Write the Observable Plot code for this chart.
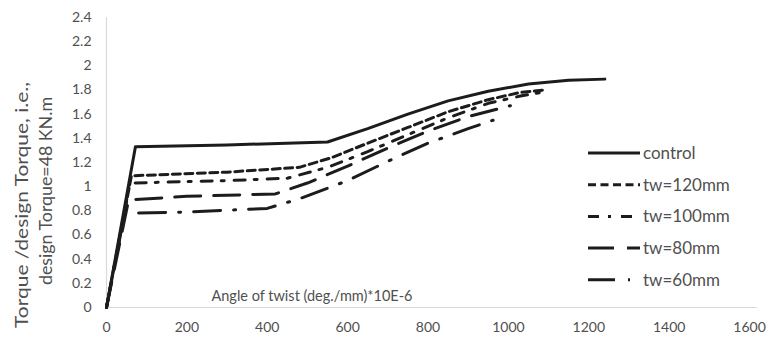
<!DOCTYPE html>
<html><head><meta charset="utf-8">
<script src="https://cdn.jsdelivr.net/npm/d3@7"></script>
<script src="https://cdn.jsdelivr.net/npm/@observablehq/plot@0.6"></script>
<style>
body{margin:0;background:#fff}
#wrap{position:relative;width:770px;height:339px;font-family:Lato, "Open Sans", sans-serif}
</style></head>
<body><div id="wrap"></div>
<script>
// ---- data ----
const seriesNames = ["control", "tw=120mm", "tw=100mm", "tw=80mm", "tw=60mm"];
const controlX = [0, 72, 300, 550, 650, 750, 850, 950, 1050, 1150, 1240];
const controlY = [0, 1.33, 1.345, 1.37, 1.48, 1.60, 1.71, 1.79, 1.85, 1.88, 1.89];
const tw120X = [0, 62, 300, 480, 560, 650, 750, 850, 950, 1030, 1090];
const tw120Y = [0, 1.09, 1.12, 1.16, 1.24, 1.36, 1.49, 1.62, 1.72, 1.78, 1.80];
const tw100X = [0, 58, 300, 450, 550, 650, 750, 850, 950, 1030, 1080];
const tw100Y = [0, 1.03, 1.05, 1.07, 1.16, 1.29, 1.43, 1.57, 1.69, 1.75, 1.78];
const tw80X = [0, 55, 200, 420, 500, 600, 700, 800, 900, 1005];
const tw80Y = [0, 0.89, 0.92, 0.94, 1.03, 1.17, 1.32, 1.46, 1.58, 1.67];
const tw60X = [0, 45, 200, 400, 480, 600, 700, 800, 900, 962];
const tw60Y = [0, 0.78, 0.79, 0.82, 0.90, 1.05, 1.21, 1.36, 1.48, 1.55];
const xTicks = [0, 200, 400, 600, 800, 1000, 1200, 1400, 1600];
const yTicks = [0, 0.2, 0.4, 0.6, 0.8, 1, 1.2, 1.4, 1.6, 1.8, 2, 2.2, 2.4];
const xTitle = "Angle of twist (deg./mm)*10E-6";
const yTitle1 = "Torque /design Torque, i.e.,";
const yTitle2 = "design Torque=48 KN.m";

// ---- styles ----
const dashes = ["none", "8,4.5", "11,9,3,10", "26,13", "27,13,2,13"];
const lineColor = "#1c1c1c";
const textColor = "#505050";

const xs = [controlX, tw120X, tw100X, tw80X, tw60X];
const ys = [controlY, tw120Y, tw100Y, tw80Y, tw60Y];
const table = seriesNames.map((name, i) => xs[i].map((x, j) => ({series: name, x, y: ys[i][j]})));

const marks = [
  Plot.ruleY([0], {stroke: "#d9d9d9", strokeWidth: 1.2, x1: 0, x2: 1620}),
  Plot.ruleX([0], {stroke: "#d9d9d9", strokeWidth: 1.2}),
  Plot.axisX({ticks: xTicks, tickSize: 0, tickPadding: 15, fontSize: 14, label: null, tickFormat: d => String(d)}),
  Plot.axisY({ticks: yTicks, tickSize: 0, tickPadding: 15, fontSize: 14, label: null, tickFormat: d => String(+d.toFixed(1))})
];
table.forEach((d, i) => {
  marks.push(Plot.line(d, {x: "x", y: "y", stroke: lineColor, strokeWidth: 3, strokeDasharray: dashes[i] === "none" ? undefined : dashes[i]}));
});

const chart = Plot.plot({
  width: 770, height: 339,
  marginLeft: 106, marginRight: 21, marginTop: 17, marginBottom: 32,
  style: {fontFamily: "Lato, 'Open Sans', sans-serif", color: textColor, background: "#fff", overflow: "visible"},
  x: {domain: [0, 1600]},
  y: {domain: [0, 2.4]},
  marks
});
document.getElementById("wrap").appendChild(chart);

const svg = d3.select(chart);
// ---- axis titles ----
svg.append("text").attr("x", 312).attr("y", 296).attr("dy", "0.35em")
  .attr("text-anchor", "middle").attr("font-size", 14.5).attr("fill", textColor).text(xTitle);
[[yTitle1, 22, 205, 246], [yTitle2, 46, 191, 188]].forEach(([t, x, y, len]) => {
  svg.append("text").attr("transform", `translate(${x},${y}) rotate(-90)`)
    .attr("text-anchor", "middle").attr("dy", "0.35em")
    .attr("font-size", 16.5).attr("fill", textColor)
    .attr("textLength", len).attr("lengthAdjust", "spacingAndGlyphs").text(t);
});

// ---- legend ----
const lg = svg.append("g").attr("transform", "translate(588,153)");
seriesNames.forEach((name, i) => {
  const g = lg.append("g").attr("transform", `translate(0,${i * 31.7})`);
  g.append("line").attr("x1", 0).attr("x2", 52).attr("y1", 0).attr("y2", 0)
    .attr("stroke", lineColor).attr("stroke-width", 3)
    .attr("stroke-dasharray", dashes[i] === "none" ? null : dashes[i]);
  g.append("text").attr("x", 55).attr("y", 0).attr("dy", "0.35em")
    .attr("text-anchor", "start")
    .attr("font-size", 17).attr("fill", textColor).text(name);
});
</script></body></html>
